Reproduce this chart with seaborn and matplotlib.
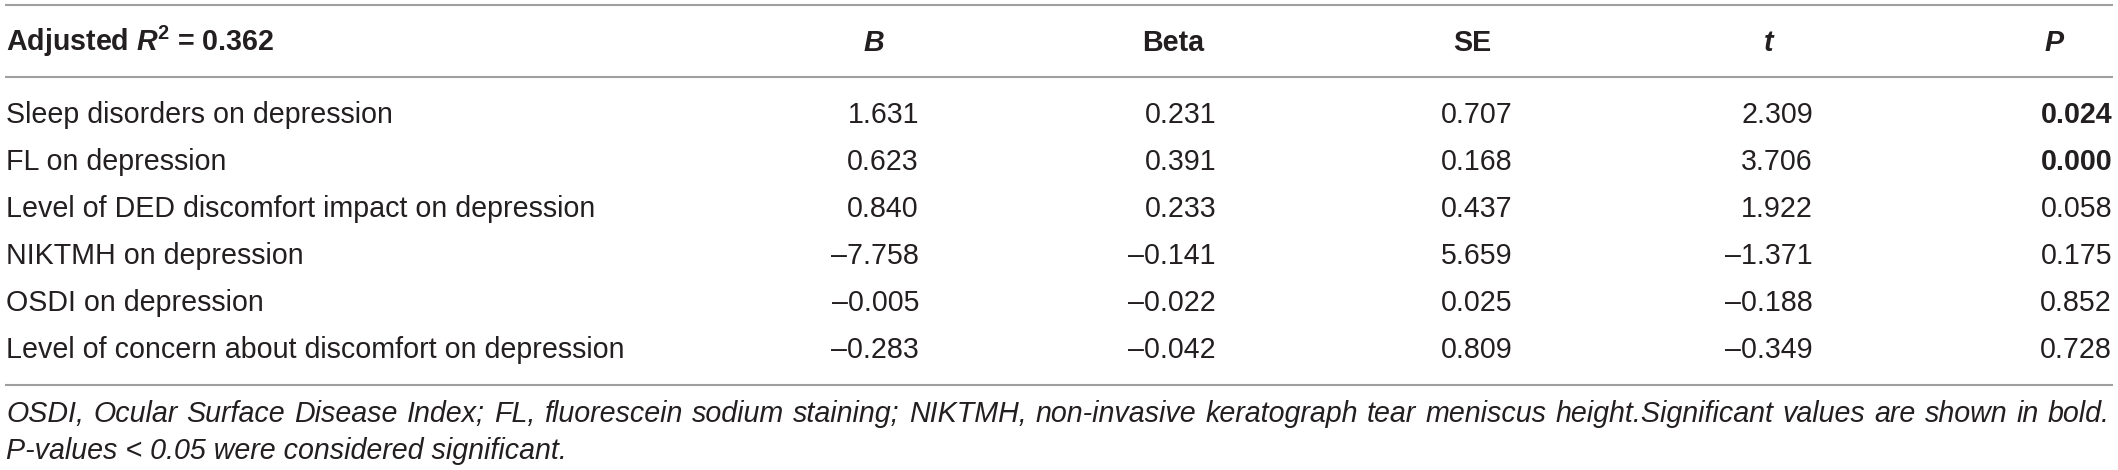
import matplotlib
matplotlib.use("Agg")
import matplotlib.pyplot as plt
import seaborn as sns

# table content
header_label = r"Adjusted $\mathbfit{R}^{\mathbf{2}}$ = 0.362"
col_names = ["B", "Beta", "SE", "t", "P"]
col_italic = [True, False, False, True, True]

labels = [
    "Sleep disorders on depression",
    "FL on depression",
    "Level of DED discomfort impact on depression",
    "NIKTMH on depression",
    "OSDI on depression",
    "Level of concern about discomfort on depression",
]
B = [1.631, 0.623, 0.840, -7.758, -0.005, -0.283]
beta = [0.231, 0.391, 0.233, -0.141, -0.022, -0.042]
se = [0.707, 0.168, 0.437, 5.659, 0.025, 0.809]
t_val = [2.309, 3.706, 1.922, -1.371, -0.188, -0.349]
p_val = [0.024, 0.000, 0.058, 0.175, 0.852, 0.728]

footnote1 = ("OSDI, Ocular Surface Disease Index; FL, fluorescein sodium staining; "
             "NIKTMH, non-invasive keratograph tear meniscus height.Significant "
             "values are shown in bold.")
footnote2 = "P-values < 0.05 were considered significant."

sns.set_theme(style="white")
plt.rcParams["font.family"] = ["Liberation Sans", "DejaVu Sans"]
plt.rcParams["mathtext.fontset"] = "custom"
plt.rcParams["mathtext.rm"] = "Liberation Sans"
plt.rcParams["mathtext.bf"] = "Liberation Sans:bold"
plt.rcParams["mathtext.bfit"] = "Liberation Sans:bold:italic"
plt.rcParams["mathtext.it"] = "Liberation Sans:italic"

W, H = 2118, 470
fig = plt.figure(figsize=(W / 100, H / 100), dpi=100)
ax = fig.add_axes([0, 0, 1, 1])
ax.set_xlim(0, W)
ax.set_ylim(H, 0)
ax.axis("off")

fs = 20.6
ink = "#231f20"
rule = "#9f9f9f"

# column geometry (pixels)
x_left = 6
x_end = 2113
head_x = [874, 1173, 1472, 1769, 2054]
val_right = [919, 1216, 1513, 1813, 2112]
head_base = 51
row_base0 = 123
row_step = 47.1

# rules
for y in [5, 77, 385]:
    ax.plot([5, x_end], [y, y], color=rule, lw=1.5, solid_capstyle="butt")

# header
ax.text(x_left, head_base, header_label, fontsize=fs, fontweight="bold",
        color=ink, va="baseline", ha="left")
for name, x, it in zip(col_names, head_x, col_italic):
    ax.text(x, head_base, name, fontsize=fs, fontweight="bold",
            style="italic" if it else "normal", color=ink,
            va="baseline", ha="center")


def fmt(v):
    s = f"{abs(v):.3f}"
    return ("\u2013" + s) if v < 0 else s


columns = [B, beta, se, t_val, p_val]
for i, lab in enumerate(labels):
    y = row_base0 + i * row_step
    ax.text(x_left, y, lab, fontsize=fs, color=ink, va="baseline", ha="left")
    for j, col in enumerate(columns):
        bold = (j == 4 and p_val[i] < 0.05)
        ax.text(val_right[j], y, fmt(col[i]), fontsize=fs, color=ink,
                fontweight="bold" if bold else "normal",
                va="baseline", ha="right")

# footnote, first line justified across the table width
fig.canvas.draw()
renderer = fig.canvas.get_renderer()
words = footnote1.split(" ")
foot_base1 = 422
foot_base2 = 459
items = []
total = 0
for w in words:
    tx = ax.text(0, foot_base1, w, fontsize=fs, style="italic", color=ink,
                 va="baseline", ha="left")
    wd = tx.get_window_extent(renderer).width
    items.append((tx, wd))
    total += wd
gap = ((x_end - 3) - x_left - total) / (len(words) - 1)
x = x_left
for tx, wd in items:
    tx.set_x(x)
    x += wd + gap

ax.text(x_left, foot_base2, footnote2, fontsize=fs, style="italic", color=ink,
        va="baseline", ha="left")

fig.savefig("out.png", dpi=100, facecolor="white")
